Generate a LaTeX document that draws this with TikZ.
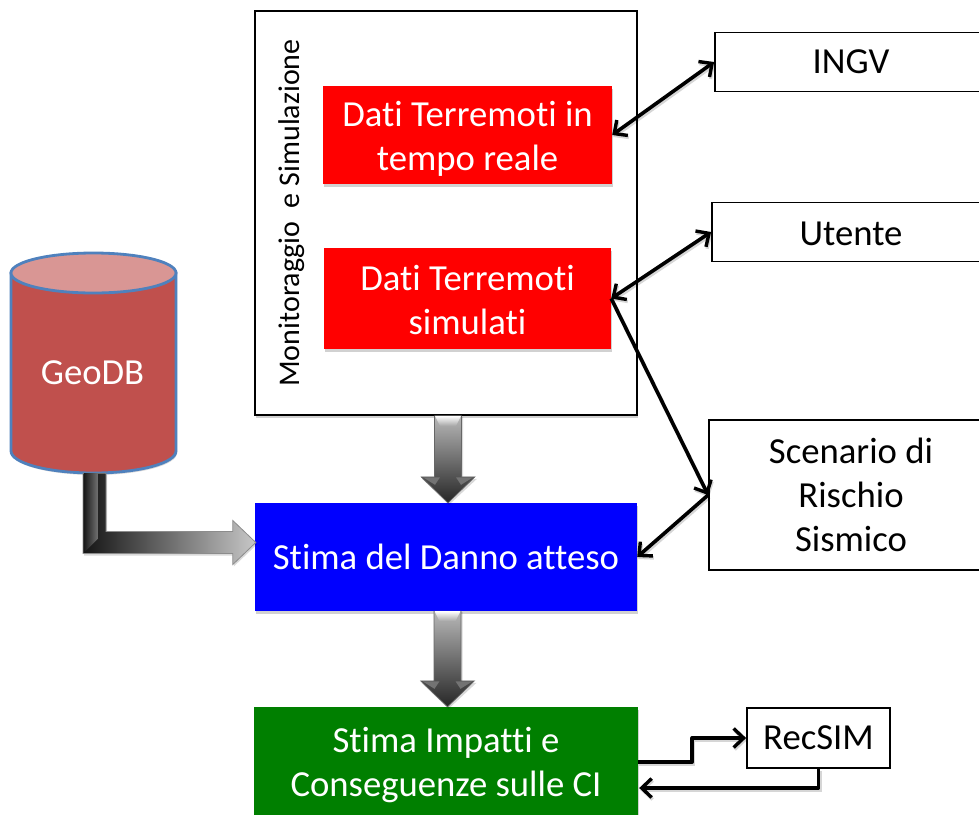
\documentclass[tikz,border=0pt]{standalone}
\usepackage{fontspec}
\setmainfont[Ligatures=NoCommon]{Carlito}
\usetikzlibrary{arrows.meta,calc,shadows,shapes.geometric}
\definecolor{cylbody}{HTML}{C0504D}
\definecolor{cyltop}{HTML}{D99694}
\definecolor{cylline}{HTML}{4F81BD}
\definecolor{ciagreen}{HTML}{007F00}
\tikzset{
  softshadow/.style={drop shadow={shadow xshift=1pt,shadow yshift=-2.5pt,fill=black,opacity=.18}},
  outlinebox/.style={draw=black,line width=1.8pt,fill=white,inner sep=0pt,align=center,text=black,font=\fontsize{36.7}{44}\selectfont},
  solidbox/.style={inner sep=0pt,align=center,text=white,font=\fontsize{36.7}{44}\selectfont,softshadow},
  link/.style={line width=3.6pt,black,line join=round,
    preaction={draw=black,opacity=.16,line width=4pt,transform canvas={shift={(1pt,-2pt)}}}},
  dbl/.style={link,{Straight Barb[length=10pt,width=19pt,line width=3.4pt]}-{Straight Barb[length=10pt,width=19pt,line width=3.4pt]}},
  one/.style={link,-{Straight Barb[length=10pt,width=19pt,line width=3.4pt]}},
}
% fat vertical arrow: from a named point to a named point
\newcommand{\fatdown}[2]{%
  \path let \p1=(#1),\p2=(#2) in
    [fill=black,opacity=.15] (\x1-12pt,\y1-1pt) -- (\x1+15pt,\y1-1pt) -- (\x1+15pt,\y2+24pt) -- (\x1+29pt,\y2+24pt) -- (\x1+1pt,\y2-2pt) -- (\x1-26pt,\y2+24pt) -- (\x1-12pt,\y2+24pt) -- cycle;
  \path let \p1=(#1),\p2=(#2) in
    [top color=black!28,bottom color=black!85,draw=black!60,line width=.6pt]
    (\x1-13.5pt,\y1) -- (\x1+13.5pt,\y1) -- (\x1+13.5pt,\y2+26pt) -- (\x1+27pt,\y2+26pt) -- (\x1,\y2) -- (\x1-27pt,\y2+26pt) -- (\x1-13.5pt,\y2+26pt) -- cycle;
  \path let \p1=(#1),\p2=(#2) in
    [top color=white,bottom color=black!35,draw=none]
    (\x1-13pt,\y1) -- (\x1+13pt,\y1) -- (\x1+8pt,\y1-10pt) -- (\x1-8pt,\y1-10pt) -- cycle;
  \path let \p1=(#1),\p2=(#2) in
    [fill=black!55] (\x1-25pt,\y2+25.5pt) -- (\x1-8pt,\y2+25.5pt) -- (\x1-13pt,\y2+18pt) -- cycle
    [fill=black!55] (\x1+25pt,\y2+25.5pt) -- (\x1+8pt,\y2+25.5pt) -- (\x1+13pt,\y2+18pt) -- cycle;
}
\begin{document}
\begin{tikzpicture}[x=1pt,y=-1pt]
\clip (0,0) rectangle (979,814);
\fill[white] (0,0) rectangle (979,814);

% large frame
\node[draw=black,line width=1.8pt,fill=white,minimum width=382pt,minimum height=404pt,inner sep=0pt,softshadow] (mon) at (446,213) {};
\node[rotate=90,font=\fontsize{30}{34}\selectfont,text=black,inner sep=0pt] (montxt) at (292,213) {Monitoraggio\ \ e Simulazione};

% red boxes
\node[solidbox,fill=red,minimum width=289pt,minimum height=98pt] (real) at (467.5,135) {\rule{0pt}{32pt}Dati Terremoti in\\tempo reale};
\node[solidbox,fill=red,minimum width=287pt,minimum height=101pt] (sim) at (467.5,298.5) {\rule{0pt}{28pt}Dati Terremoti\\simulati};

% right boxes
\node[outlinebox,minimum width=272pt,minimum height=59pt] (ingv) at (851,62) {INGV};
\node[outlinebox,minimum width=278pt,minimum height=59pt] (ute) at (851,232) {\rule{0pt}{28pt}Utente};
\node[outlinebox,minimum width=284pt,minimum height=150pt] (scen) at (851,495) {Scenario di\\Rischio\\Sismico};

% blue and green boxes
\node[solidbox,fill=blue,minimum width=382pt,minimum height=108pt] (danno) at (446,557) {Stima del Danno atteso};
\node[solidbox,fill=ciagreen,minimum width=384pt,minimum height=114pt] (imp) at (446,764) {\rule{0pt}{28pt}Stima Impatti e\\Conseguenze sulle CI};
\node[outlinebox,minimum width=143pt,minimum height=60pt] (rec) at (818.5,738) {RecSIM};

% cylinder
\fill[black,opacity=.15] (12,275) -- (12,453) arc[start angle=180,end angle=0,x radius=82.5,y radius=22] -- (177,275) -- cycle;
\draw[cylline,line width=2.8pt,fill=cylbody] (11,273) -- (11,451) arc[start angle=180,end angle=0,x radius=82.5,y radius=22] -- (176,273) -- cycle;
\draw[cylline,line width=2.8pt,fill=cyltop] (93.5,273) ellipse[x radius=82.5,y radius=20];
\node[minimum width=165pt,minimum height=200pt,inner sep=0pt,text=white,font=\fontsize{36.7}{40}\selectfont] (geo) at (92.5,373) {GeoDB};

% fat arrows
\coordinate (a1) at ($(mon.south)+(2,0)$);
\coordinate (b1) at ($(danno.north)+(2,0)$);
\coordinate (a2) at ($(danno.south)+(1.5,0)$);
\coordinate (b2) at ($(imp.north)+(1.5,0)$);
\fatdown{a1}{b1}
\fatdown{a2}{b2}

% L shaped arrow
\coordinate (ls) at ($(geo.south)+(-9.5,0)$);
\coordinate (lt) at ($(danno.west)+(1,-14.5)$);
\path let \p1=(ls),\p2=(lt) in
  [fill=black,opacity=.15] (\x1+1pt,\y1-2pt) -- (\x1+1pt,\y2-13pt) -- (\x2-22pt,\y2-13pt) -- (\x2-22pt,\y2-24pt) -- (\x2+1pt,\y2-2pt) -- (\x2-22pt,\y2+21pt) -- (\x2-22pt,\y2+9pt) -- (\x1+24pt,\y2+9pt) -- (\x1+24pt,\y1-2pt) -- cycle;
\path let \p1=(ls),\p2=(lt) in
  [left color=black!92,right color=black!22,draw=black!45,line width=.8pt]
  (\x1,\y1) -- (\x1,\y2-11pt) -- (\x2-23pt,\y2-11pt) -- (\x2-23pt,\y2-22pt) -- (\x2,\y2) -- (\x2-23pt,\y2+22pt) -- (\x2-23pt,\y2+11pt) -- (\x1+23pt,\y2+11pt) -- (\x1+23pt,\y1) -- cycle;
\path let \p1=(ls),\p2=(lt) in
  [left color=black!90,right color=black!55,draw=none]
  (\x1+1pt,\y1) -- (\x1+1pt,\y2-10pt) -- (\x1+15pt,\y2+4pt) -- (\x1+15pt,\y1) -- cycle;

% connectors
\coordinate (rout) at ($(imp.east)+(0,-2)$);
\coordinate (rin) at ($(imp.east)+(1,24)$);
\coordinate (rec1) at ($(rout)+(54,0)$);
\coordinate (rec2) at (rec1|-rec.west);
\coordinate (rec3) at (rec.south|-rin);
\draw[dbl] (real.east) -- (ingv.west);
\draw[dbl] (sim.east) -- (ute.west);
\draw[one] (sim.east) -- (scen.west);
\draw[one] (scen.west) -- (danno.east);
\draw[one] (rout) -- (rec1) -- (rec2) -- (rec.west);
\draw[one] (rec.south) -- (rec3) -- (rin);
\end{tikzpicture}
\end{document}
